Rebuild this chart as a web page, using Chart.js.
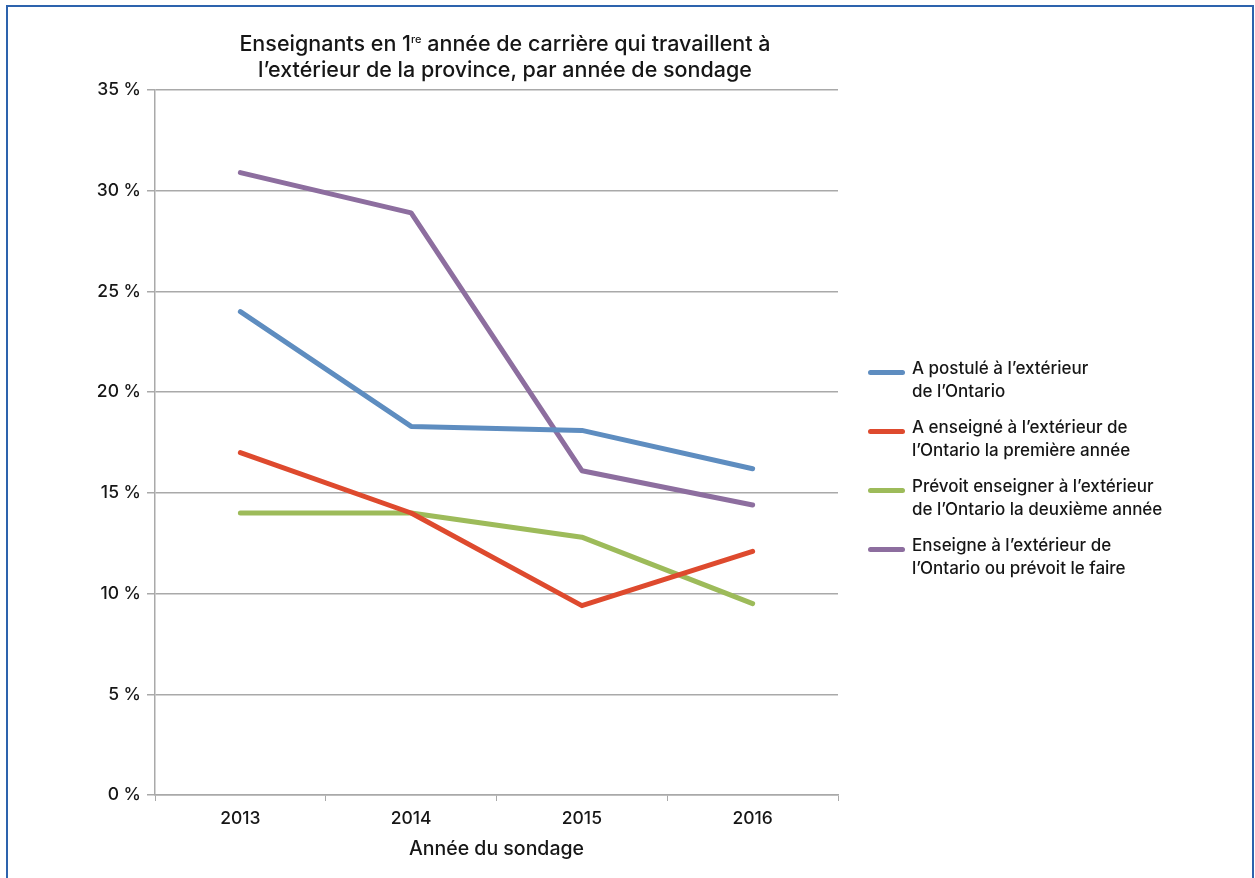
<!DOCTYPE html>
<html lang="fr">
<head>
<meta charset="utf-8">
<script src="https://cdn.jsdelivr.net/npm/chart.js@4/dist/chart.umd.min.js"></script>
<style>
  html, body { margin: 0; padding: 0; background: #fff; }
  body { width: 1255px; height: 878px; position: relative; overflow: hidden; font-family: Inter, sans-serif; color: #161616; }
  #frame { position: absolute; left: 6px; top: 5px; width: 1244px; height: 900px; border: 2px solid #2d63ad; }
  #chart { position: absolute; left: 0; top: 0; }
  #title { position: absolute; left: 155px; width: 700px; top: 30px; text-align: center; font-size: 21.5px; font-weight: 500; line-height: 26px; }
  #title sup { font-size: 11px; vertical-align: 8px; line-height: 0; }
  #legend { position: absolute; left: 868px; top: 357px; font-size: 17px; font-weight: 500; line-height: 23px; }
  .item { position: relative; padding-left: 44px; margin-bottom: 13px; white-space: nowrap; }
  .sw { position: absolute; left: 0; top: 13px; width: 37px; height: 5px; border-radius: 3px; }
</style>
</head>
<body>
<div id="frame"></div>
<canvas id="chart" width="1255" height="878"></canvas>
<div id="title">Enseignants en 1<sup>re</sup> année de carrière qui travaillent à<br>l’extérieur de la province, par année de sondage</div>
<div id="legend"></div>
<script>
const categories = ["2013", "2014", "2015", "2016"];
const seriesNames = [
  "A postulé à l’extérieur<br>de l’Ontario",
  "A enseigné à l’extérieur de<br>l’Ontario la première année",
  "Prévoit enseigner à l’extérieur<br>de l’Ontario la deuxième année",
  "Enseigne à l’extérieur de<br>l’Ontario ou prévoit le faire"
];
const postule = [24.0, 18.3, 18.1, 16.2];
const enseignePremiere = [17.0, 14.0, 9.4, 12.1];
const prevoitDeuxieme = [14.0, 14.0, 12.8, 9.5];
const enseigneOuPrevoit = [30.9, 28.9, 16.1, 14.4];
const seriesColors = ["#5e8dc0", "#de4a2e", "#9dbb5a", "#8d6e9f"];
const yTicks = [0, 5, 10, 15, 20, 25, 30, 35];
const xAxisTitle = "Année du sondage";

const allSeries = [postule, enseignePremiere, prevoitDeuxieme, enseigneOuPrevoit];
const datasets = allSeries.map((d, i) => ({
  label: seriesNames[i].replace("<br>", " "),
  data: d,
  borderColor: seriesColors[i],
  backgroundColor: seriesColors[i],
  borderWidth: 5,
  pointRadius: 0,
  borderCapStyle: "round",
  borderJoinStyle: "round",
  tension: 0,
  fill: false
}));

const gridColor = "#a9a9a9";
const fontFam = "Inter";
new Chart(document.getElementById("chart"), {
  type: "line",
  data: { labels: categories, datasets: datasets },
  options: {
    responsive: false,
    animation: false,
    layout: { padding: { left: 0, right: 417, top: 90, bottom: 0 } },
    plugins: { legend: { display: false }, title: { display: false }, tooltip: { enabled: false } },
    scales: {
      x: {
        offset: true,
        grid: { offset: true, drawOnChartArea: false, drawTicks: true, tickLength: 6, color: gridColor },
        border: { color: gridColor, width: 1.5 },
        ticks: { color: "#161616", font: { family: fontFam, size: 17.5, weight: "500" }, padding: 7 },
        title: { display: true, text: xAxisTitle, color: "#161616", font: { family: fontFam, size: 19.5, weight: "500" }, padding: { top: 4, bottom: 17 } },
        afterFit: (s) => { s.height = 83; }
      },
      y: {
        min: 0, max: 35,
        afterBuildTicks: (s) => { s.ticks = yTicks.map(v => ({ value: v })); },
        grid: { color: gridColor, lineWidth: 1.5, tickLength: 8 },
        border: { color: gridColor, width: 1.5 },
        ticks: { color: "#161616", font: { family: fontFam, size: 17.5, weight: "500" }, padding: 6, callback: (v) => v + " %" },
        afterFit: (s) => { s.width = 155; }
      }
    }
  }
});

const legend = document.getElementById("legend");
seriesNames.forEach((name, i) => {
  const div = document.createElement("div");
  div.className = "item";
  div.innerHTML = '<span class="sw" style="background:' + seriesColors[i] + '"></span>' + name;
  legend.appendChild(div);
});
</script>
</body>
</html>
